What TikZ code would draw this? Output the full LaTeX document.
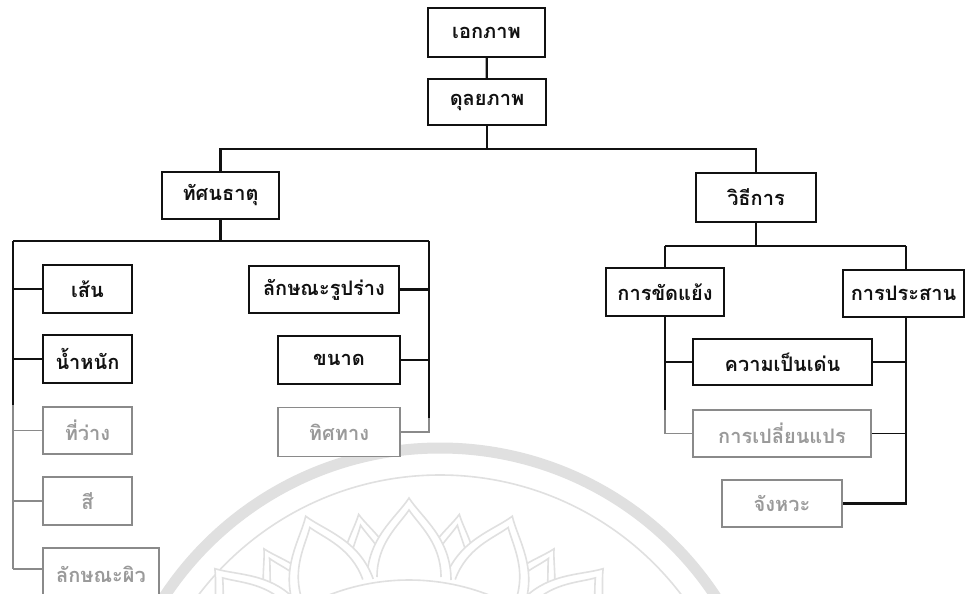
\documentclass[tikz,border=0pt]{standalone}
\usepackage{fontspec}
\newfontfamily\thai[Script=Thai]{Loma}
\definecolor{ink}{HTML}{111111}
\definecolor{fade}{HTML}{8A8A8A}
\definecolor{fadetext}{HTML}{9A9A9A}
\definecolor{wm}{HTML}{E0E0E0}
\begin{document}
\begin{tikzpicture}[x=1pt,y=-1pt,
  box/.style={draw=ink, line width=2.2pt, fill=white, inner sep=0pt,
    font=\thai\bfseries\fontsize{20}{23}\selectfont, text=ink},
  fbox/.style={box, draw=fade, line width=1.7pt, text=fadetext},
  link/.style={draw=ink, line width=2.3pt},
  flink/.style={draw=fade, line width=1.7pt},
  wmline/.style={draw=wm, line width=1.6pt}]
\useasboundingbox (0,0) rectangle (966,594);
\clip (0,0) rectangle (966,594);
\fill[white] (0,0) rectangle (966,594);

% ---- watermark ----
\draw[draw=wm, line width=11pt] (440,778) circle[radius=330];
\draw[wmline] (440,778) circle[radius=303];
\begin{scope}[shift={(409,800)}]
  \foreach \a in {-70,-50,-30,-10,10,30,50,70}{
    \begin{scope}[rotate=\a]
      \draw[wmline, fill=white] (-28,-220) .. controls (-28,-255) and (-9,-272) .. (0,-290)
        .. controls (9,-272) and (28,-255) .. (28,-220);
      \draw[wmline] (-20,-222) .. controls (-20,-250) and (-6,-265) .. (0,-279)
        .. controls (6,-265) and (20,-250) .. (20,-222);
    \end{scope}}
  \foreach \a in {-80,-60,-40,-20,0,20,40,60,80}{
    \begin{scope}[rotate=\a]
      \draw[wmline, fill=white] (-42,-220) .. controls (-42,-262) and (-13,-282) .. (0,-302)
        .. controls (13,-282) and (42,-262) .. (42,-220);
      \draw[wmline] (-32,-223) .. controls (-32,-257) and (-10,-275) .. (0,-290)
        .. controls (10,-275) and (32,-257) .. (32,-223);
    \end{scope}}
  \draw[wmline] (0,0) circle[radius=220];
\end{scope}

% ---- nodes ----
\node[box, minimum width=117pt, minimum height=49pt] (ek) at (486.5,32.5) {เอกภาพ};
\node[box, minimum width=118pt, minimum height=46pt] (dun) at (487,102) {ดุลยภาพ};
\node[box, minimum width=117pt, minimum height=47pt] (tat) at (220.5,195.5) {ทัศนธาตุ};
\node[box, minimum width=120pt, minimum height=49pt] (wi) at (756,197.5) {วิธีการ};

\node[box, minimum width=89pt, minimum height=48pt] (sen) at (87.5,289) {เส้น};
\node[box, minimum width=89pt, minimum height=48pt] (nam) at (87.5,359) {น้ำหนัก};
\node[fbox, minimum width=89pt, minimum height=47pt] (wang) at (87.5,430.5) {ที่ว่าง};
\node[fbox, minimum width=89pt, minimum height=48pt] (si) at (87.5,501) {สี};
\node[fbox, minimum width=116pt, minimum height=52pt] (phiw) at (101,574) {ลักษณะผิว};

\node[box, minimum width=150pt, minimum height=47pt] (rup) at (324,289.5) {ลักษณะรูปร่าง};
\node[box, minimum width=122pt, minimum height=48pt] (khanat) at (339,360) {ขนาด};
\node[fbox, minimum width=122pt, minimum height=49pt] (thit) at (339,432) {ทิศทาง};

\node[box, minimum width=118pt, minimum height=48pt] (khat) at (665,292) {การขัดแย้ง};
\node[box, minimum width=121pt, minimum height=47pt] (prasan) at (903.5,293.5) {การประสาน};
\node[box, minimum width=179pt, minimum height=46pt] (den) at (782.5,362) {ความเป็นเด่น};
\node[fbox, minimum width=178pt, minimum height=47pt] (plian) at (782,433.5) {การเปลี่ยนแปร};
\node[fbox, minimum width=120pt, minimum height=47pt] (cha) at (782,503.5) {จังหวะ};

% ---- connectors: top ----
\coordinate (b1) at (487,149);
\draw[link] (ek) -- (dun);
\draw[link] (dun.south) -- (b1);
\draw[link] (tat.north) |- (b1) -| (wi.north);

% ---- left group ----
\coordinate (b2) at (220.5,241);
\coordinate (lt) at (13,241);
\coordinate (rt) at (429,241);
\coordinate (lmid) at (13,405);
\coordinate (lend) at (13,569);
\coordinate (rmid) at (429,418);
\draw[link] (tat.south) -- (b2);
\draw[link] (lt) -- (rt);
\draw[link] (lt) -- (lmid);
\draw[flink] (lmid) -- (lend);
\draw[link] (sen.west) -- (sen.west -| lt);
\draw[link] (nam.west) -- (nam.west -| lt);
\draw[flink] (wang.west) -- (wang.west -| lt);
\draw[flink] (si.west) -- (si.west -| lt);
\draw[flink] ([yshift=5pt]phiw.west) -- (lend);
\draw[link] (rt) -- (rmid);
\draw[flink] (rmid) |- (thit.east);
\draw[link] (rup.east) -- (rup.east -| rt);
\draw[link] (khanat.east) -- (khanat.east -| rt);

% ---- right group ----
\coordinate (b3) at (756,246);
\coordinate (rl) at (665,246);
\coordinate (rr) at (906,246);
\coordinate (kmid) at (665,410);
\draw[link] (wi.south) -- (b3);
\draw[link] (rl) -- (rr);
\draw[link] (rl) -- (khat.north);
\draw[link] (rr) -- (rr |- prasan.north);
\draw[link] (khat.south) -- (kmid);
\draw[flink] (kmid) |- (plian.west);
\draw[link] (den.west) -- (den.west -| rl);
\draw[link] (rr |- prasan.south) |- (cha.east);
\draw[link] (den.east) -- (den.east -| rr);
\draw[link, line width=1.8pt] (plian.east) -- (plian.east -| rr);
\end{tikzpicture}
\end{document}
